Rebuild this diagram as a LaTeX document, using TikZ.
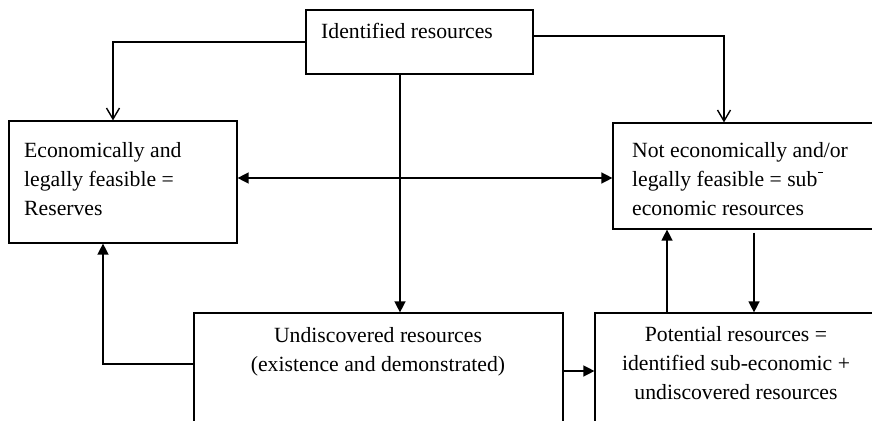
\documentclass[tikz,border=0pt]{standalone}
\usepackage{fontspec}
\setmainfont{Liberation Serif}
\usetikzlibrary{arrows.meta,positioning,calc}

\begin{document}
\begin{tikzpicture}[
  x=1pt, y=-1pt,
  every node/.style={font=\fontsize{21.7}{28.8}\selectfont},
  res/.style={draw, line width=1.2pt, inner sep=0pt},
  txt/.style={inner sep=0pt},
  link/.style={-{Triangle[length=11pt,width=11pt]}, line width=1.4pt},
  twoway/.style={{Triangle[length=11pt,width=11pt]}-{Triangle[length=11pt,width=11pt]}, line width=1.4pt},
  split/.style={-{Straight Barb[length=11pt,width=13pt]}, line width=1.4pt},
]
\useasboundingbox (0,0) rectangle (872,420);
\clip (0,0) rectangle (872,420);

% boxes
\node[res, minimum width=227pt, minimum height=64pt] (ident) at (419.5,42) {};
\node[res, minimum width=228pt, minimum height=122pt] (reserves) at (123,182) {};
\node[res, minimum width=277pt, minimum height=106pt] (subeco) at (751.5,176) {};
\node[res, minimum width=369pt, minimum height=127pt] (undisc) at (378.5,376.5) {};
\node[res, minimum width=295pt, minimum height=127pt] (potential) at (742.5,376.5) {};

% texts (base = last line)
\node[txt, anchor=base west] (identT) at (321,38) {Identified resources};
\node[txt, anchor=base west, align=left] (reservesT) at (24,215)
  {Economically and\\legally feasible =\\Reserves};
\node[txt, anchor=base west, align=left] (subecoT) at (632,215)
  {Not economically and/or\\legally feasible = sub\kern1pt\rule[13pt]{4.5pt}{1.5pt}\\economic resources};
\node[txt, anchor=base, align=center] (undiscT) at (378,371)
  {Undiscovered resources\\(existence and demonstrated)};
\node[txt, anchor=base, align=center] (potentialT) at (736,399)
  {Potential resources =\\identified sub-economic +\\undiscovered resources};

% connectors
\draw[split] (ident.west) -| ([xshift=-10pt]reserves.north);
\draw[split] ([yshift=6pt]ident.east) -| ([xshift=-27.5pt]subeco.north);
\draw[link] ([xshift=-19.5pt]ident.south) -- ([xshift=-19.5pt]ident.south |- undisc.north);
\draw[twoway] ([yshift=4pt]reserves.east) -- ([yshift=4pt]reserves.east -| subeco.west);
\draw[link] ([yshift=12.5pt]undisc.west) -| ([xshift=-20pt]reserves.south);
\draw[link] ([yshift=5.5pt]undisc.east) -- ([yshift=5.5pt]undisc.east -| potential.west);
\draw[link] ([xshift=-75.5pt]potential.north) -- ([xshift=-75.5pt]potential.north |- subeco.south);
\draw[link, shorten <=3pt] ([xshift=2.5pt]subeco.south) -- ([xshift=2.5pt]subeco.south |- potential.north);
\end{tikzpicture}
\end{document}
